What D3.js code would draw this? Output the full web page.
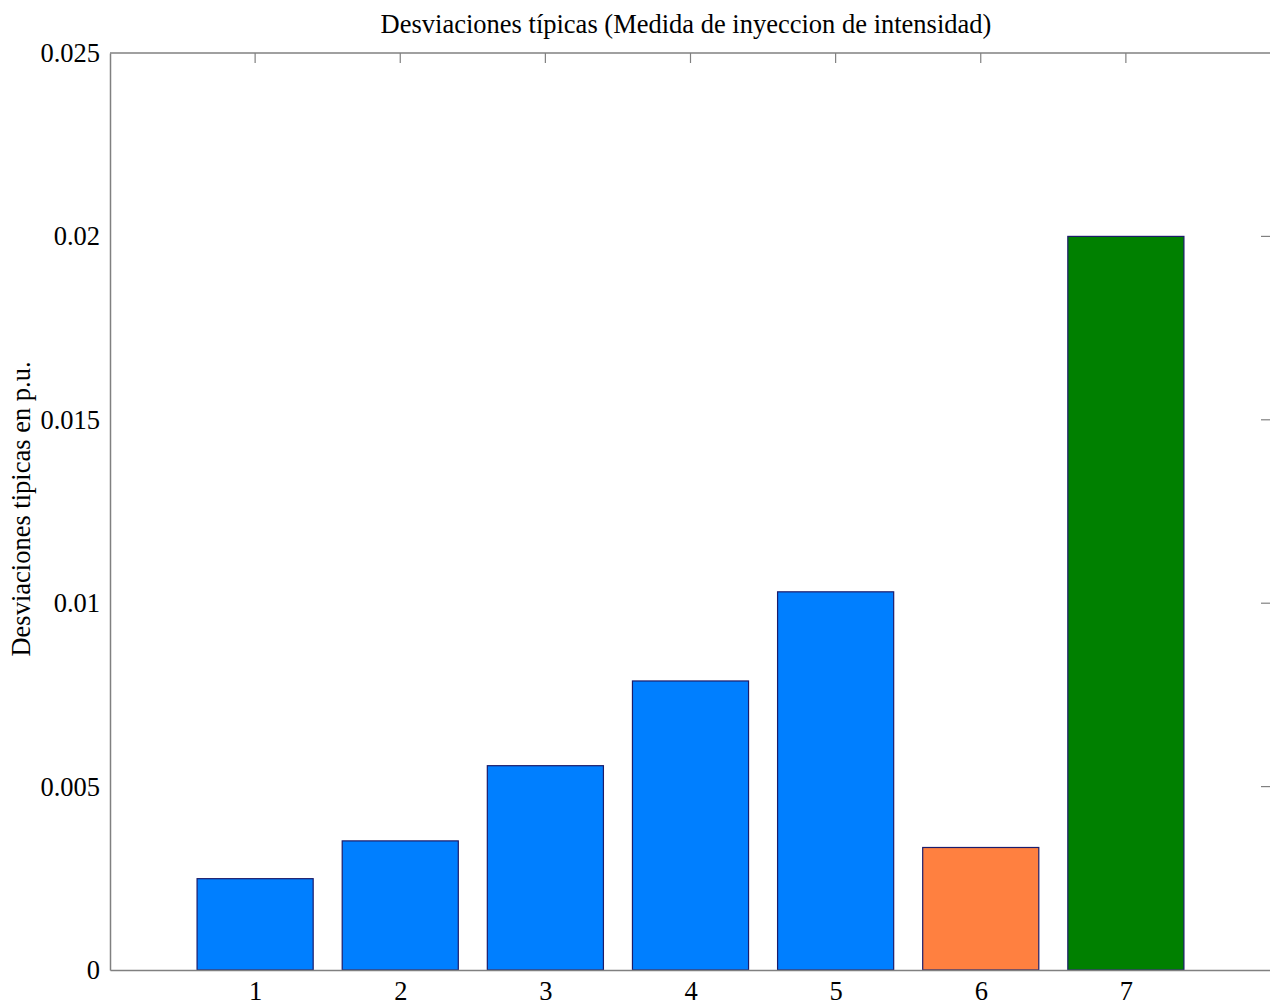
<!DOCTYPE html>
<html>
<head>
<meta charset="utf-8">
<script src="https://cdn.jsdelivr.net/npm/d3@7"></script>
<style>
  html, body { margin: 0; padding: 0; background: #fff; }
  svg { display: block; font-family: "Liberation Serif", "Times New Roman", serif; }
</style>
</head>
<body>
<svg id="chart" width="1270" height="1006"></svg>
<script>
// Standard deviations per measurement (p.u.)
const categories = [1, 2, 3, 4, 5, 6, 7];
const values = [0.00249, 0.00352, 0.00557, 0.00788, 0.01031, 0.00334, 0.0200];
const barColors = ["#007FFF", "#007FFF", "#007FFF", "#007FFF", "#007FFF", "#FF8040", "#008000"];
const yTicks = [0, 0.005, 0.01, 0.015, 0.02, 0.025];
const yTickLabels = ["0", "0.005", "0.01", "0.015", "0.02", "0.025"];

(function () {
  const svg = d3.select("#chart");
  const plot = { left: 110, right: 1271, top: 53, bottom: 970 };
  const fontSize = 26.5;

  const x = d3.scaleLinear().domain([0, 8]).range([plot.left, plot.right]);
  const y = d3.scaleLinear().domain([0, 0.025]).range([plot.bottom, plot.top]);
  const barW = x(0.8) - x(0);

  const axisColor = "#808080";

  // Bars
  svg.append("g").selectAll("rect").data(categories).join("rect")
    .attr("x", d => x(d) - barW / 2)
    .attr("y", (d, i) => y(values[i]))
    .attr("width", barW)
    .attr("height", (d, i) => y(0) - y(values[i]))
    .attr("fill", (d, i) => barColors[i])
    .attr("stroke", "#1c1c6a")
    .attr("stroke-width", 1.2);

  // Bottom axis
  const xAxis = d3.axisBottom(x).tickValues(categories).tickSize(0).tickPadding(11).tickFormat(d3.format("d"));
  const gx = svg.append("g").attr("transform", `translate(0,${plot.bottom})`).call(xAxis);
  gx.select(".domain").attr("stroke", axisColor).attr("stroke-width", 1.5);
  gx.selectAll("text").attr("font-size", fontSize).attr("fill", "#000").attr("font-family", "Liberation Serif");

  // Left axis
  const yAxis = d3.axisLeft(y).tickValues(yTicks).tickSize(0).tickPadding(10)
    .tickFormat((d, i) => yTickLabels[i]);
  const gy = svg.append("g").attr("transform", `translate(${plot.left},0)`).call(yAxis);
  gy.select(".domain").attr("stroke", axisColor).attr("stroke-width", 1.5);
  gy.selectAll("text").attr("font-size", fontSize).attr("fill", "#000").attr("font-family", "Liberation Serif");

  // Top and right frame lines with inward ticks
  svg.append("line").attr("x1", plot.left).attr("x2", plot.right).attr("y1", plot.top).attr("y2", plot.top)
    .attr("stroke", axisColor).attr("stroke-width", 1.5);
  svg.append("line").attr("x1", plot.right).attr("x2", plot.right).attr("y1", plot.top).attr("y2", plot.bottom)
    .attr("stroke", axisColor).attr("stroke-width", 1.5);

  const tickLen = 10;
  svg.append("g").selectAll("line").data(categories).join("line")
    .attr("x1", d => x(d)).attr("x2", d => x(d))
    .attr("y1", plot.top).attr("y2", plot.top + tickLen)
    .attr("stroke", axisColor).attr("stroke-width", 1.2);
  svg.append("g").selectAll("line").data(yTicks.slice(1, -1)).join("line")
    .attr("x1", plot.right).attr("x2", plot.right - tickLen)
    .attr("y1", d => y(d)).attr("y2", d => y(d))
    .attr("stroke", axisColor).attr("stroke-width", 1.2);

  // Title
  svg.append("text")
    .attr("x", 686).attr("y", 33)
    .attr("text-anchor", "middle").attr("font-size", fontSize)
    .text("Desviaciones típicas (Medida de inyeccion de intensidad)");

  // Y label
  svg.append("text")
    .attr("transform", `translate(30,509) rotate(-90)`)
    .attr("text-anchor", "middle").attr("font-size", fontSize)
    .text("Desviaciones tipicas en p.u.");
})();
</script>
</body>
</html>
